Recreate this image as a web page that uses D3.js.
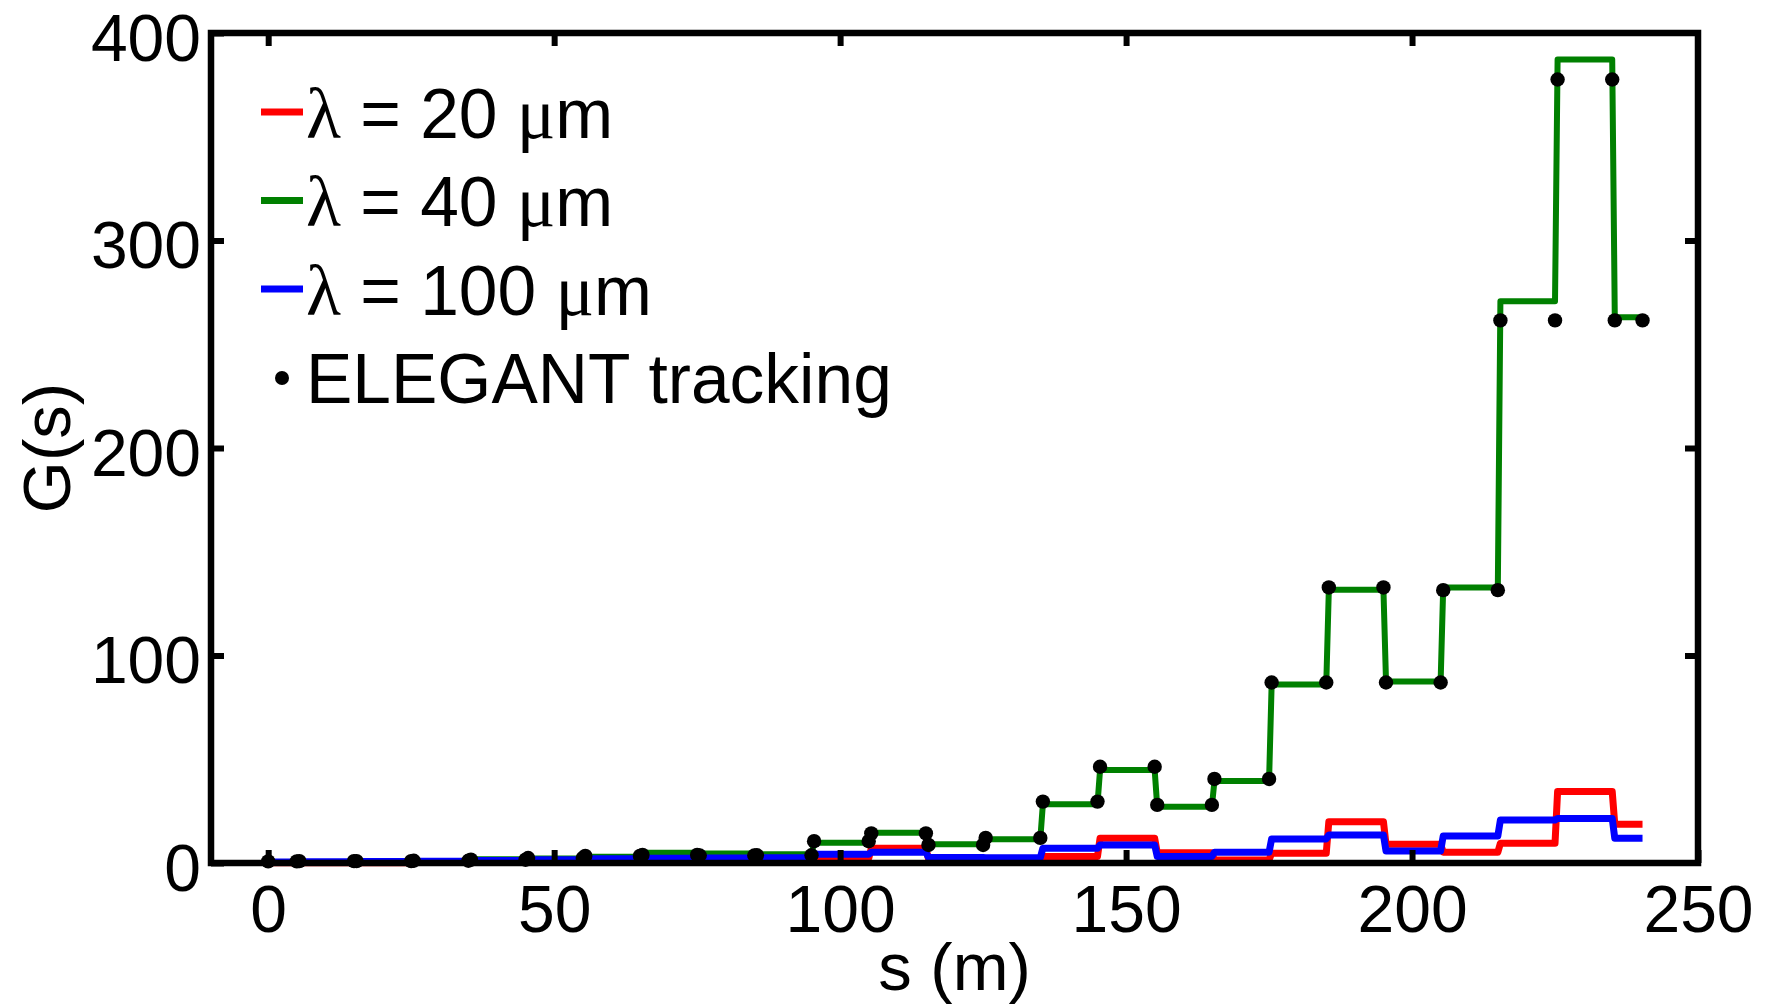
<!DOCTYPE html>
<html>
<head>
<meta charset="utf-8">
<script src="https://cdn.jsdelivr.net/npm/d3@7"></script>
<style>
  html, body { margin: 0; padding: 0; background: #fff; }
  svg { display: block; }
</style>
</head>
<body>
<svg id="chart" width="1769" height="1004"></svg>
<script>
// Lattice cell boundaries along s (m); each gain value holds over one cell
const edges = [0, 5, 15, 25, 35, 45, 55, 65, 75, 85, 95, 105, 115, 125, 135,
               145, 155, 165, 175, 185, 195, 205, 215, 225, 235, 240.3];

// Analytic gain G(s) per cell, one array per modulation wavelength
const gain20 = [0.1, 0.1, 0.15, 0.2, 0.3, 0.3, 0.4, 0.5, 0.4, 0.5,
                2.2, 7.1, 2.0, 0.7, 3.1, 11.9, 5.0, 1.5, 4.7, 19.9,
                9.0, 5.2, 9.5, 34.4, 18.7];
const gain40 = [0.2, 0.4, 0.6, 1.0, 1.8, 2.2, 3.0, 5.0, 4.6, 4.2,
                9.8, 14.6, 9.0, 11.4, 28.3, 44.8, 27.1, 39.5, 86, 131.7,
                87.5, 132.8, 270.7, 387.2, 263];
const gain100 = [0.5, 0.6, 0.7, 0.9, 1.2, 1.6, 2.0, 2.3, 2.4, 2.5,
                 4.2, 5.2, 2.6, 2.5, 7.1, 8.7, 3.1, 5.2, 11.6, 13.5,
                 5.8, 13.0, 20.7, 21.5, 11.9];

// ELEGANT tracking result for the 40 um case, sampled at both ends of each cell
const elegant = [0.8, 0.9, 0.9, 1.1, 1.6, 2.4, 3.4, 3.9, 3.6, 3.7,
                 10.5, 14.3, 8.7, 12.1, 29.6, 46.4, 28, 40.5, 87, 132.8,
                 87, 131.5, 261.5, 377.6, 261.5];

const xTicks = [0, 50, 100, 150, 200, 250];
const yTicks = [0, 100, 200, 300, 400];

const seriesDefs = [
  { label: "20",  values: gain20,  color: "#ff0000", width: 7 },
  { label: "40",  values: gain40,  color: "#008000", width: 6 },
  { label: "100", values: gain100, color: "#0000ff", width: 7 }
];

const svg = d3.select("#chart");
const frame = { left: 211, right: 1698, top: 33, bottom: 863 };
const ramp = 0.45;   // width of each step transition (m)

const x = d3.scaleLinear().domain([-10, 250]).range([frame.left, frame.right]);
const y = d3.scaleLinear().domain([0, 400]).range([frame.bottom, frame.top]);

const sansFont = "'Liberation Sans', Arial, Helvetica, sans-serif";
const greekFont = "'Liberation Serif', 'Times New Roman', serif";

// Step path: flat over each cell, short ramp into the next cell
function stepPoints(values) {
  const pts = [];
  values.forEach((v, i) => {
    pts.push([edges[i] + (i ? ramp : 0), v]);
    pts.push([edges[i + 1], v]);
  });
  return pts;
}
const line = d3.line().x(d => x(d[0])).y(d => y(d[1]));

const plot = svg.append("g");
seriesDefs.forEach(s => {
  plot.append("path")
    .datum(stepPoints(s.values))
    .attr("d", line)
    .attr("fill", "none")
    .attr("stroke", s.color)
    .attr("stroke-width", s.width)
    .attr("stroke-linejoin", "round")
    .attr("stroke-linecap", "butt");
});

// Tracking points
const dots = [];
elegant.forEach((v, i) => {
  dots.push([edges[i] + (i ? ramp : 0), v]);
  dots.push([edges[i + 1], v]);
});
plot.selectAll("circle.track")
  .data(dots)
  .join("circle")
  .attr("class", "track")
  .attr("cx", d => x(d[0]))
  .attr("cy", d => y(d[1]))
  .attr("r", 7.2)
  .attr("fill", "#000");

// Axes: ticks point into the plot on all four sides
const tickLen = 13;
function styleAxis(g) {
  g.select(".domain").remove();
  g.selectAll(".tick line").attr("stroke", "#000").attr("stroke-width", 6);
  g.selectAll(".tick text")
    .attr("fill", "#000")
    .style("font-family", sansFont)
    .style("font-size", "66px");
}

svg.append("g")
  .attr("transform", `translate(0,${frame.bottom})`)
  .call(d3.axisBottom(x).tickValues(xTicks).tickSize(-tickLen).tickFormat(d3.format("d")))
  .call(styleAxis)
  .call(g => g.selectAll(".tick text").attr("y", 69).attr("dy", 0));

svg.append("g")
  .attr("transform", `translate(0,${frame.top})`)
  .call(d3.axisTop(x).tickValues(xTicks.slice(0, -1)).tickSize(-tickLen).tickFormat(""))
  .call(styleAxis);

svg.append("g")
  .attr("transform", `translate(${frame.left},0)`)
  .call(d3.axisLeft(y).tickValues(yTicks).tickSize(-tickLen).tickFormat(d3.format("d")))
  .call(styleAxis)
  .call(g => g.selectAll(".tick text").attr("x", -10).attr("dy", "0.41em"));

svg.append("g")
  .attr("transform", `translate(${frame.right},0)`)
  .call(d3.axisRight(y).tickValues(yTicks.slice(1, -1)).tickSize(-tickLen).tickFormat(""))
  .call(styleAxis);

// Frame
svg.append("rect")
  .attr("x", frame.left).attr("y", frame.top)
  .attr("width", frame.right - frame.left).attr("height", frame.bottom - frame.top)
  .attr("fill", "none")
  .attr("stroke", "#000")
  .attr("stroke-width", 6.5);

// Axis titles
svg.append("text")
  .attr("x", (frame.left + frame.right) / 2).attr("y", 990)
  .attr("text-anchor", "middle")
  .style("font-family", sansFont).style("font-size", "67px")
  .text("s (m)");

svg.append("text")
  .attr("transform", `translate(70,${(frame.top + frame.bottom) / 2}) rotate(-90)`)
  .attr("text-anchor", "middle")
  .style("font-family", sansFont).style("font-size", "67px")
  .text("G(s)");

// Legend
const legend = svg.append("g");
const rowY = i => 137.5 + 88.5 * i;
seriesDefs.forEach((s, i) => {
  legend.append("line")
    .attr("x1", 261).attr("x2", 303)
    .attr("y1", rowY(i) - 25.5).attr("y2", rowY(i) - 25.5)
    .attr("stroke", s.color).attr("stroke-width", 7);
  const t = legend.append("text")
    .attr("x", 306).attr("y", rowY(i))
    .style("font-family", sansFont).style("font-size", "69.5px");
  t.append("tspan").style("font-family", greekFont).style("font-size", "72px").text("λ");
  t.append("tspan").text(` = ${s.label} `);
  t.append("tspan").style("font-family", greekFont).style("font-size", "72px").text("μ");
  t.append("tspan").text("m");
});
legend.append("circle")
  .attr("cx", 282).attr("cy", rowY(3) - 25)
  .attr("r", 7).attr("fill", "#000");
legend.append("text")
  .attr("x", 306).attr("y", rowY(3))
  .style("font-family", sansFont).style("font-size", "69.5px")
  .text("ELEGANT tracking");
</script>
</body>
</html>
